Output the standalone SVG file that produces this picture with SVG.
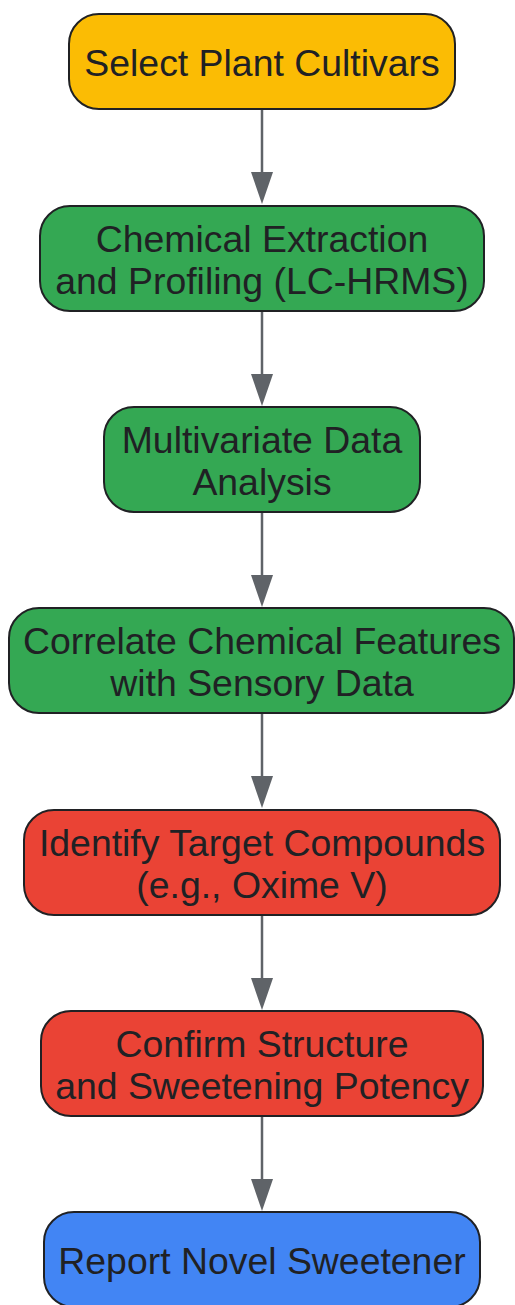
<svg xmlns="http://www.w3.org/2000/svg" width="515" height="1305" viewBox="0 0 515 1305">
<style>
.n rect{stroke:#202124;stroke-width:2}
.n text{font-family:"Liberation Sans",Arial,sans-serif;font-size:37.4px;fill:#202124;text-anchor:middle}
.y{fill:#FBBC04}.g{fill:#34A853}.r{fill:#EA4335}.b{fill:#4285F4}
.e line{stroke:#5F6368;stroke-width:2.5}
.e path{fill:#5F6368}
</style>
<rect width="515" height="1305" fill="#fff"/>
<g class="e" id="connectors">
<line x1="262" y1="110" x2="262" y2="174"/><path d="M251,172 L273,172 L262,204 Z"/>
<line x1="262" y1="312" x2="262" y2="376"/><path d="M251,374 L273,374 L262,406 Z"/>
<line x1="262" y1="513" x2="262" y2="577"/><path d="M251,575 L273,575 L262,607 Z"/>
<line x1="262" y1="714" x2="262" y2="778"/><path d="M251,776 L273,776 L262,808 Z"/>
<line x1="262" y1="916" x2="262" y2="980"/><path d="M251,978 L273,978 L262,1010 Z"/>
<line x1="262" y1="1117" x2="262" y2="1181"/><path d="M251,1179 L273,1179 L262,1211 Z"/>
</g>
<g class="n" id="n1"><rect class="y" x="69" y="14" width="386" height="95" rx="30"/><text x="262" y="76">Select Plant Cultivars</text></g>
<g class="n" id="n2"><rect class="g" x="40" y="206" width="444" height="105" rx="30"/><text x="262" y="252">Chemical Extraction</text><text x="262" y="294">and Profiling (LC-HRMS)</text></g>
<g class="n" id="n3"><rect class="g" x="104" y="407" width="316" height="105" rx="30"/><text x="262" y="453">Multivariate Data</text><text x="262" y="495">Analysis</text></g>
<g class="n" id="n4"><rect class="g" x="9" y="608" width="505" height="105" rx="30"/><text x="262" y="654">Correlate Chemical Features</text><text x="262" y="696">with Sensory Data</text></g>
<g class="n" id="n5"><rect class="r" x="24" y="810" width="476" height="105" rx="30"/><text x="262" y="856">Identify Target Compounds</text><text x="262" y="898">(e.g., Oxime V)</text></g>
<g class="n" id="n6"><rect class="r" x="41" y="1011" width="442" height="105" rx="30"/><text x="262" y="1057">Confirm Structure</text><text x="262" y="1099">and Sweetening Potency</text></g>
<g class="n" id="n7"><rect class="b" x="44" y="1212" width="436" height="95" rx="30"/><text x="262" y="1274">Report Novel Sweetener</text></g>
</svg>
